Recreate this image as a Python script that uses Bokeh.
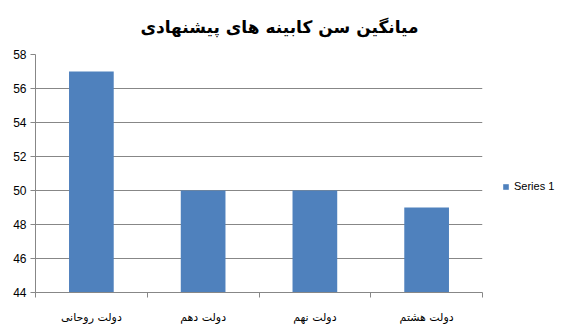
from bokeh.plotting import figure
from bokeh.models import ColumnDataSource, FixedTicker, Legend, LegendItem, Range1d
from bokeh.embed import file_html
from bokeh.resources import INLINE

categories = ["دولت روحانی", "دولت دهم", "دولت نهم", "دولت هشتم"]
values = [57, 50, 50, 49]
series_name = "Series 1"
y_ticks = [44, 46, 48, 50, 52, 54, 56, 58]
title_text = "میانگین سن کابینه های پیشنهادی"

centers = [i + 0.5 for i in range(len(categories))]
bounds = [i for i in range(len(categories) + 1)]

src = ColumnDataSource(dict(x=centers, top=values, cat=categories))

p = figure(frame_width=447, frame_height=238, output_backend="svg", toolbar_location=None,
           x_range=Range1d(0, len(categories)), y_range=Range1d(y_ticks[0], y_ticks[-1]),
           min_border_left=35, min_border_right=87, min_border_top=54, min_border_bottom=42)
p.outline_line_color = None
p.background_fill_color = "white"

p.title.text = title_text
p.title.align = "right"
p.title.text_font = "DejaVu Sans"
p.title.text_font_style = "bold"
p.title.text_font_size = "17px"
p.title.text_color = "#000000"
p.title.offset = 64
p.title.standoff = 32
p.title.vertical_align = "top"

r = p.vbar(x="x", top="top", bottom=y_ticks[0], width=0.4, source=src,
           fill_color="#4F81BD", line_color=None)

grid_color = "#878787"
p.xgrid.grid_line_color = None
p.ygrid.grid_line_color = grid_color
p.ygrid.ticker = FixedTicker(ticks=y_ticks)

p.yaxis.ticker = FixedTicker(ticks=y_ticks)
p.yaxis.axis_line_color = grid_color
p.yaxis.major_tick_line_color = grid_color
p.yaxis.major_tick_out = 5
p.yaxis.major_tick_in = 0
p.yaxis.minor_tick_line_color = None
p.yaxis.major_label_text_font = "Liberation Sans"
p.yaxis.major_label_text_font_size = "12px"
p.yaxis.major_label_text_color = "#000000"
p.yaxis.major_label_standoff = 4

p.xaxis.ticker = FixedTicker(ticks=centers, minor_ticks=bounds)
p.xaxis.major_label_overrides = {c: n for c, n in zip(centers, categories)}
p.xaxis.axis_line_color = grid_color
p.xaxis.major_tick_line_color = None
p.xaxis.minor_tick_line_color = grid_color
p.xaxis.minor_tick_out = 5
p.xaxis.minor_tick_in = 0
p.xaxis.major_label_text_font = "DejaVu Sans"
p.xaxis.major_label_text_font_size = "11px"
p.xaxis.major_label_text_color = "#000000"
p.xaxis.major_label_standoff = 12

legend = Legend(items=[LegendItem(label=series_name, renderers=[r])],
                location=(20, 100), border_line_color=None,
                glyph_width=7, glyph_height=7, label_text_font="Liberation Sans",
                label_text_font_size="11px", label_text_color="#000000",
                padding=4, spacing=0, margin=0)
p.add_layout(legend, "right")

open("out.html", "w").write(file_html(p, INLINE))
